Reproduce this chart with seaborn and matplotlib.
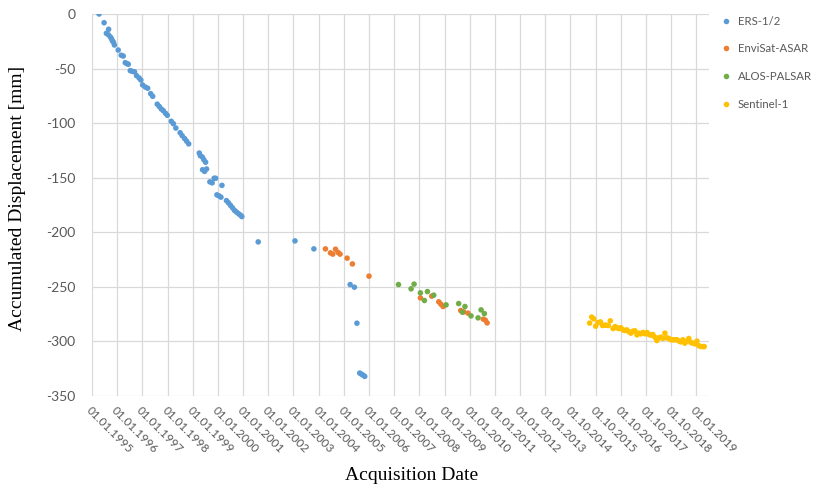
import matplotlib
matplotlib.use("Agg")
import matplotlib.pyplot as plt
import seaborn as sns
import pandas as pd

# ---- data (decimal year, accumulated displacement in mm) ----
ers_t = [1995.28, 1995.48, 1995.57, 1995.65, 1995.66, 1995.73, 1995.77, 1995.81, 1995.85, 1995.89,
         1996.04, 1996.16, 1996.24, 1996.32, 1996.39, 1996.44, 1996.52, 1996.60, 1996.69, 1996.77,
         1996.87, 1996.94, 1997.01, 1997.12, 1997.21, 1997.33, 1997.41, 1997.59, 1997.67, 1997.75,
         1997.83, 1997.92, 1997.99, 1998.15, 1998.23, 1998.33, 1998.50, 1998.58, 1998.68, 1998.76,
         1998.84, 1999.26, 1999.30, 1999.38, 1999.44, 1999.51, 1999.39, 1999.47, 1999.55, 1999.68,
         1999.77, 1999.85, 1999.91, 2000.16, 1999.96, 2000.04, 2000.12, 2000.34, 2000.42, 2000.50,
         2000.58, 2000.66, 2000.74, 2000.82, 2000.90, 2000.95, 2001.60, 2003.06, 2003.81, 2005.25,
         2005.42, 2005.52, 2005.63, 2005.70, 2005.77, 2005.83]
ers_d = [0.0, -8.0, -17.7, -19.0, -14.0, -21.0, -22.5, -24.5, -25.8, -28.4,
         -33.0, -37.8, -38.5, -44.6, -45.5, -46.0, -51.9, -52.6, -53.0, -56.5,
         -58.6, -60.5, -65.0, -67.0, -68.0, -73.0, -75.4, -82.6, -84.7, -87.0,
         -88.5, -91.0, -92.8, -98.3, -100.5, -104.5, -108.8, -111.5, -114.2, -116.6,
         -119.0, -127.4, -129.8, -131.0, -133.5, -135.8, -142.7, -144.2, -142.0, -153.8,
         -154.7, -150.5, -150.5, -157.0, -165.7, -166.6, -167.8, -171.0, -173.0, -175.3,
         -177.6, -180.0, -181.5, -183.0, -184.4, -185.6, -208.8, -207.9, -215.2, -247.9,
         -250.3, -283.3, -329.0, -330.0, -331.0, -332.0]

asar_t = [2004.27, 2004.47, 2004.56, 2004.67, 2004.77, 2004.85, 2005.13, 2005.34, 2006.00, 2008.04,
          2008.49, 2008.77, 2008.85, 2008.94, 2009.64, 2009.76, 2009.93, 2010.54, 2010.62, 2010.69]
asar_d = [-215.2, -218.9, -220.0, -215.5, -218.5, -220.0, -223.7, -229.0, -240.2, -260.1,
          -258.5, -263.7, -265.8, -268.0, -271.7, -272.9, -274.1, -279.6, -280.5, -283.0]

palsar_t = [2007.17, 2007.67, 2007.79, 2008.04, 2008.20, 2008.32, 2008.57, 2009.06, 2009.56, 2009.81,
            2009.71, 2010.05, 2010.33, 2010.45, 2010.58]
palsar_d = [-247.9, -251.8, -247.5, -255.5, -262.5, -254.3, -257.6, -266.5, -265.3, -268.0,
            -273.2, -276.6, -278.4, -271.1, -274.5]

s1_t = [2014.76, 2014.84, 2014.92, 2015.00, 2015.09, 2015.19, 2015.27, 2015.35, 2015.42, 2015.50,
        2015.58, 2015.69, 2015.77, 2015.85, 2015.92, 2016.00, 2016.08, 2016.16, 2016.24, 2016.32,
        2016.40, 2016.48, 2016.56, 2016.64, 2016.72, 2016.80, 2016.88, 2016.96, 2017.04, 2017.12,
        2017.19, 2017.27, 2017.35, 2017.43, 2017.51, 2017.59, 2017.67, 2017.75, 2017.83, 2017.91,
        2017.99, 2018.07, 2018.15, 2018.23, 2018.31, 2018.38, 2018.46, 2018.54, 2018.62, 2018.70,
        2018.78, 2018.86, 2018.94, 2019.02, 2019.10, 2019.18, 2019.27, 2019.31]
s1_d = [-283.2, -277.7, -279.3, -286.0, -282.7, -282.1, -285.4, -285.1, -285.1, -285.4,
        -281.1, -288.2, -286.4, -287.5, -288.2, -287.5, -289.4, -290.0, -289.4, -291.2,
        -292.4, -290.6, -290.3, -294.0, -292.4, -293.0, -291.8, -293.0, -291.8, -293.7,
        -294.2, -293.7, -296.1, -299.2, -296.7, -296.1, -297.3, -292.4, -296.7, -297.3,
        -298.5, -298.5, -298.5, -298.5, -299.7, -300.4, -298.5, -301.6, -299.7, -297.3,
        -301.0, -301.6, -302.2, -299.7, -304.0, -304.7, -304.7, -304.7]

sensors = ["ERS-1/2", "EnviSat-ASAR", "ALOS-PALSAR", "Sentinel-1"]
colors = ["#5B9BD5", "#ED7D31", "#70AD47", "#FFC000"]

tick_pos = list(range(1995, 2020))
tick_labels = ["01.01.1995", "01.01.1996", "01.01.1997", "01.01.1998", "01.01.1999",
               "01.01.2000", "01.01.2001", "01.01.2002", "01.01.2003", "01.01.2004",
               "01.01.2005", "01.01.2006", "01.01.2007", "01.01.2008", "01.01.2009",
               "01.01.2010", "01.01.2011", "01.01.2012", "01.01.2013", "01.10.2014",
               "01.10.2015", "01.10.2016", "01.10.2017", "01.10.2018", "01.01.2019"]
y_ticks = [0, -50, -100, -150, -200, -250, -300, -350]

# ---- build table ----
frames = []
for name, t, d in zip(sensors, [ers_t, asar_t, palsar_t, s1_t], [ers_d, asar_d, palsar_d, s1_d]):
    frames.append(pd.DataFrame({"date": t, "disp": d, "sensor": name}))
df = pd.concat(frames, ignore_index=True)

sns.set_theme(style="white")
plt.rcParams["font.family"] = ["Lato", "DejaVu Sans"]

fig = plt.figure(figsize=(8.14, 4.87), dpi=100)
ax = fig.add_axes([92 / 814, 1 - 396 / 487, (709 - 92) / 814, (396 - 14) / 487])

sns.scatterplot(data=df, x="date", y="disp", hue="sensor", hue_order=sensors,
                palette=colors, s=16, linewidth=0, ax=ax, legend=True, zorder=3)

ax.set_xlim(1995, 2019.5)
ax.set_ylim(-350, 0)
ax.set_yticks(y_ticks)
ax.set_yticklabels([str(v) for v in y_ticks], color="#595959", fontsize=10)
ax.set_xticks(tick_pos)
ax.set_xticklabels(tick_labels, rotation=-45, ha="left", va="top",
                   rotation_mode="anchor", color="#595959", fontsize=8.5)
ax.tick_params(axis="both", length=0)
ax.tick_params(axis="y", pad=12)
ax.tick_params(axis="x", pad=6)
ax.grid(True, color="#d9d9d9", linewidth=0.9)
ax.set_axisbelow(True)
for sp in ax.spines.values():
    sp.set_visible(False)

ax.set_xlabel("")
ax.set_ylabel("")
fig.text(412 / 814, 1 - 475 / 487, "Acquisition Date", ha="center", va="center",
         family=["Liberation Serif"], fontsize=14, color="black")
fig.text(18 / 814, 1 - 198 / 487, "Accumulated Displacement [mm]", ha="center", va="center",
         rotation=90, family=["Liberation Serif"], fontsize=14, color="black")

leg = ax.legend(loc="upper left", bbox_to_anchor=(711 / 814, 1 - 8 / 487),
                bbox_transform=fig.transFigure, frameon=False, fontsize=8.2,
                labelspacing=1.45, handletextpad=0.45, handlelength=1.2, markerscale=1.0,
                borderaxespad=0.3)
for txt in leg.get_texts():
    txt.set_color("#595959")

fig.savefig("out.png", dpi=100)
